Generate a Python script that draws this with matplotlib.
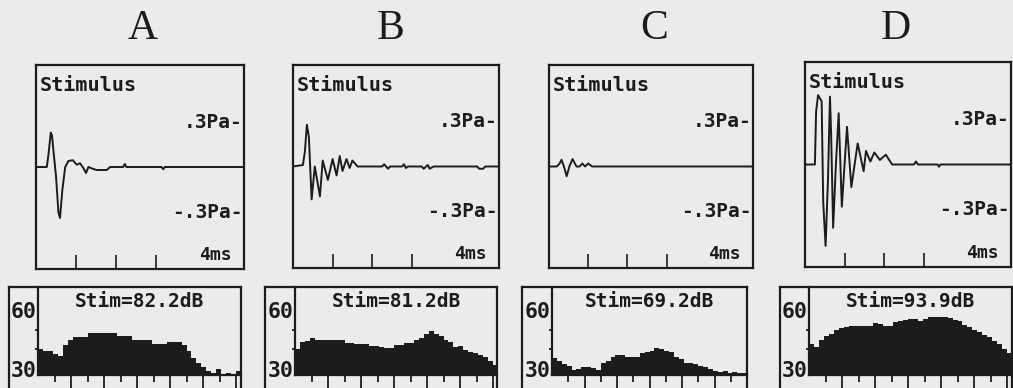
import numpy as np
import matplotlib.pyplot as plt
from matplotlib.transforms import blended_transform_factory

W, H = 1013, 388
BG = '#ebebe9'
INK = '#1c1c1c'
MONO = 'DejaVu Sans Mono'

panel_letters = ['A', 'B', 'C', 'D']
stim_levels = ['82.2', '81.2', '69.2', '93.9']

# stimulus waveforms: time (ms), pressure (Pa)
wave_a_t = [0, 0.27, 0.31, 0.37, 0.40, 0.45, 0.50, 0.56, 0.60, 0.66, 0.73, 0.81, 0.92,
            1.02, 1.10, 1.18, 1.25, 1.31, 1.43, 1.52, 1.77, 1.85, 2.18, 2.22, 2.26,
            3.14, 3.18, 3.22, 5.2]
wave_a_p = [0, 0, 0.08, 0.23, 0.21, 0.07, -0.06, -0.30, -0.34, -0.15, 0.0, 0.04, 0.045,
            0.015, 0.025, -0.005, -0.04, 0, -0.013, -0.02, -0.02, 0, 0, 0.02, 0,
            0, -0.015, 0, 0]

wave_b_t = [0, 0.25, 0.30, 0.35, 0.40, 0.47, 0.55, 0.68, 0.75, 0.88, 1.0, 1.1, 1.18,
            1.25, 1.35, 1.43, 1.5, 1.63, 2.25, 2.3, 2.4, 2.45, 2.75, 2.8, 2.85, 2.9,
            3.25, 3.3, 3.4, 3.45, 3.55, 4.65, 4.7, 4.8, 4.85, 5.2]
wave_b_p = [0, 0.01, 0.1, 0.28, 0.2, -0.22, 0.0, -0.2, 0.04, -0.09, 0.05, -0.06, 0.07,
            -0.03, 0.05, -0.01, 0.04, 0, 0, 0.015, -0.015, 0, 0, 0.015, -0.01, 0,
            0, -0.015, 0.01, -0.015, 0, 0, -0.015, -0.015, 0, 0]

wave_c_t = [0, 0.2, 0.27, 0.32, 0.38, 0.45, 0.52, 0.6, 0.7, 0.78, 0.85, 0.92, 1.0,
            1.1, 5.2]
wave_c_p = [0, 0, 0.02, 0.045, 0.0, -0.065, 0.0, 0.05, 0.0, 0.0, 0.02, 0.0, 0.02,
            0.0, 0]

wave_d_t = [0, 0.25, 0.28, 0.33, 0.42, 0.46, 0.52, 0.58, 0.63, 0.66, 0.71, 0.78, 0.85,
            0.93, 1.06, 1.17, 1.33, 1.48, 1.54, 1.65, 1.75, 1.89, 2.04, 2.2, 2.75,
            2.8, 2.85, 3.35, 3.38, 3.42, 5.2]
wave_d_p = [0, 0, 0.35, 0.46, 0.42, -0.25, -0.54, -0.1, 0.45, 0.2, -0.42, 0.0, 0.34,
            -0.28, 0.25, -0.15, 0.14, -0.045, 0.09, 0.02, 0.08, 0.03, 0.065, 0, 0,
            0.02, 0, 0, -0.015, 0, 0]

# spectra: level (dB) in 0.3 kHz bins from 0 kHz
freq_step = 0.3
spec_a = [40, 39, 39, 37.5, 36.5, 42, 45, 46.5, 46.5, 46.5, 48.5, 48.5, 48.5, 48.5,
          48.5, 48.5, 47, 47, 47, 45, 45, 45, 45, 43, 43, 43, 44, 44, 44, 42,
          39, 35.5, 33, 31, 29, 28, 30, 27.5, 28, 27.5, 29]
spec_b = [40, 44, 44.5, 46, 45, 45, 45, 45, 45, 45, 43.5, 43.5, 43, 43, 42.5, 41.5,
          41.5, 41, 40.5, 40.5, 42, 42, 43.5, 43.5, 45, 46, 48, 49.5, 48, 47, 45,
          44, 41, 41.5, 39.5, 38.5, 38, 37, 36, 34, 32]
spec_c = [35.5, 34, 32.5, 31.5, 29.5, 30, 31, 31, 30.5, 29.5, 33, 34, 36, 37, 37, 36,
          36, 36, 38, 38.5, 39, 40.5, 40, 39, 38.5, 36, 35, 33, 33, 32.5, 31.5,
          31, 30, 29, 28.5, 29, 28, 28.5, 28, 28, 27.5]
spec_d = [42.5, 41, 45, 47, 48, 50, 51, 51.5, 52, 52, 52, 52, 52, 53.5, 53, 52, 52,
          54, 54.5, 55, 55.5, 55.5, 54.5, 55.5, 56.5, 56.5, 56.5, 56.5, 56, 55,
          54.5, 52.5, 51.5, 50, 49, 47.5, 46.5, 44.5, 43, 40, 38]

waves = [(wave_a_t, wave_a_p), (wave_b_t, wave_b_p), (wave_c_t, wave_c_p), (wave_d_t, wave_d_p)]
spectra = [spec_a, spec_b, spec_c, spec_d]

# layout in pixels (x0, y0, x1, y1), y from top
letter_x = [143, 391, 654, 896]
top_boxes = [(36, 65, 244, 269), (293, 65, 499, 268), (549, 65, 753, 268), (805, 62, 1011, 267)]
spec_boxes = [(9, 38, 241), (265, 295, 497), (522, 552, 747), (780, 809, 1012)]
spec_top, spec_base = 287, 375


def px_rect(x0, y0, x1, y1):
    return [x0 / W, 1 - y1 / H, (x1 - x0) / W, (y1 - y0) / H]


fig = plt.figure(figsize=(W / 100, H / 100), dpi=100, facecolor=BG)

for i in range(4):
    fig.text(letter_x[i] / W, 1 - 29 / H, panel_letters[i], ha='center', va='center',
             fontfamily='Liberation Serif', fontsize=30, color=INK)

    # stimulus waveform
    ax = fig.add_axes(px_rect(*top_boxes[i]))
    ax.set_facecolor(BG)
    t, p = waves[i]
    ax.plot(t, p, color=INK, lw=1.4)
    ax.set_xlim(0, 5.2)
    ax.set_ylim(-0.68, 0.68)
    ax.set_xticks([1, 2, 3])
    ax.set_xticklabels([])
    ax.set_yticks([])
    ax.tick_params(axis='x', direction='in', length=10, width=1.2, color=INK)
    for s in ax.spines.values():
        s.set_linewidth(1.6)
        s.set_color(INK)
    ax.text(0.02, 0.9, 'Stimulus', transform=ax.transAxes, ha='left', va='center',
            fontfamily=MONO, fontweight='bold', fontsize=14.5, color=INK)
    trans = blended_transform_factory(ax.transAxes, ax.transData)
    ax.text(0.995, 0.3, '.3Pa-', transform=trans, ha='right', va='center',
            fontfamily=MONO, fontweight='bold', fontsize=14, color=INK)
    ax.text(0.995, -0.3, '-.3Pa-', transform=trans, ha='right', va='center',
            fontfamily=MONO, fontweight='bold', fontsize=14, color=INK)
    ax.text(0.94, 0.07, '4ms', transform=ax.transAxes, ha='right', va='center',
            fontfamily=MONO, fontweight='bold', fontsize=13, color=INK)

    # spectrum
    x0, xin, x1 = spec_boxes[i]
    oax = fig.add_axes(px_rect(x0, spec_top, x1, 420))
    oax.set_facecolor(BG)
    oax.set_xticks([])
    oax.set_yticks([])
    oax.spines['bottom'].set_visible(False)
    for s in ['left', 'top', 'right']:
        oax.spines[s].set_linewidth(1.6)
        oax.spines[s].set_color(INK)

    iax = fig.add_axes(px_rect(xin, spec_top, x1, spec_base))
    iax.set_facecolor('none')
    levels = spectra[i]
    edges = np.arange(len(levels) + 1) * freq_step
    iax.stairs(levels, edges, baseline=0, fill=True, color=INK)
    iax.set_xlim(0, (x1 - xin) / 16.5)
    iax.set_ylim(27, 71.7)
    iax.spines['top'].set_visible(False)
    iax.spines['right'].set_visible(False)
    for s in ['left', 'bottom']:
        iax.spines[s].set_linewidth(1.6)
        iax.spines[s].set_color(INK)
    iax.set_xticks(np.arange(2, 13, 2))
    iax.set_xticks(np.arange(1, 12, 2), minor=True)
    iax.set_xticklabels([])
    iax.tick_params(axis='x', which='major', direction='out', length=10, width=1.3, color=INK)
    iax.tick_params(axis='x', which='minor', direction='out', length=5, width=1.3, color=INK)
    iax.set_yticks([30, 60])
    iax.set_yticklabels(['30', '60'], fontfamily=MONO, fontweight='bold', fontsize=15.5, color=INK)
    iax.set_yticks([40, 50], minor=True)
    iax.tick_params(axis='y', which='major', length=0, pad=1)
    iax.tick_params(axis='y', which='minor', direction='out', length=2.5, width=1.3, color=INK)
    iax.text(0.5, 0.83, 'Stim=' + stim_levels[i] + 'dB', transform=iax.transAxes,
             ha='center', va='center', fontfamily=MONO, fontweight='bold',
             fontsize=14, color=INK)

fig.savefig('out.png', dpi=100, facecolor=BG)
